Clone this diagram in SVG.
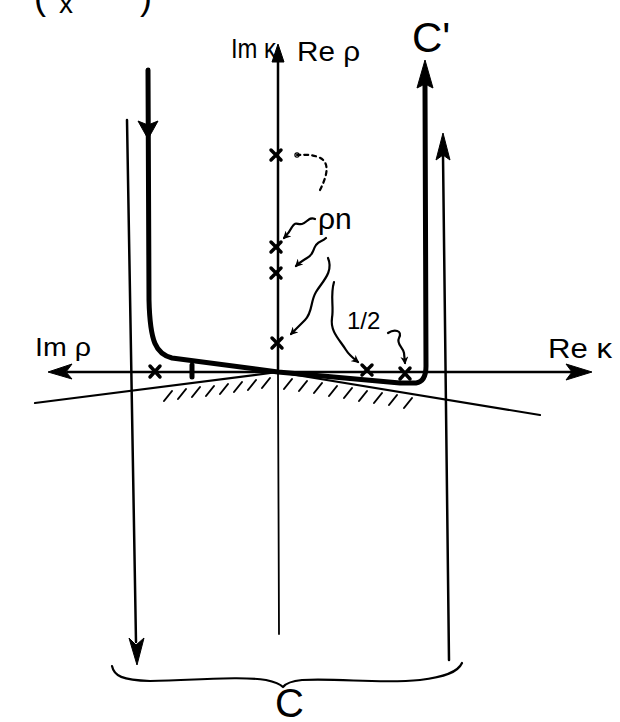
<svg xmlns="http://www.w3.org/2000/svg" width="620" height="722" viewBox="0 0 620 722">
<defs>
<style>
.ink{fill:none;stroke:#000;stroke-linecap:round;stroke-linejoin:round}
.thin{stroke-width:2.5}
.thick{stroke-width:5}
.wavy{stroke-width:2.2}
.hatch{stroke-width:2}
.cross{stroke-width:3.5}
.lbl{font-family:"Liberation Sans","DejaVu Sans",sans-serif;fill:#000}
.head{fill:#000;stroke:#000;stroke-width:1;stroke-linejoin:round}
</style>
<marker id="small" viewBox="0 0 10 10" refX="8" refY="5" markerWidth="8" markerHeight="8" markerUnits="userSpaceOnUse" orient="auto">
<path d="M0,0 L10,5 L0,10 L3,5 Z" fill="#000"/>
</marker>
<marker id="dot" viewBox="0 0 10 10" refX="5" refY="5" markerWidth="6" markerHeight="6" markerUnits="userSpaceOnUse" orient="auto">
<circle cx="5" cy="5" r="3.5" fill="none" stroke="#000" stroke-width="2"/>
</marker>
</defs>
<rect width="620" height="722" fill="#fff"/>

<g id="top-fragment">
<text class="lbl" x="34" y="9" font-size="36">(</text>
<text class="lbl" x="59" y="13" font-size="28">x</text>
<text class="lbl" x="140" y="9" font-size="36">)</text>
</g>

<g id="axes">
<path class="ink thin" d="M278,62 L278,372"/>
<path class="ink" stroke-width="1.8" d="M278,372 L279,634"/>
<polygon class="head" points="278,44 272,62 284,62"/>
<path class="ink thin" d="M68,372 L572,372"/>
<polygon class="head" points="48,372 72,364 66,372 72,379"/>
<polygon class="head" points="592,372 566,364 572,372 566,380"/>
<text class="lbl" x="231" y="58" font-size="27" textLength="45" lengthAdjust="spacingAndGlyphs">Im κ</text>
<text class="lbl" x="297" y="61" font-size="28" textLength="63" lengthAdjust="spacingAndGlyphs">Re ρ</text>
<text class="lbl" x="35" y="356" font-size="25" textLength="56" lengthAdjust="spacingAndGlyphs">Im ρ</text>
<text class="lbl" x="548" y="358" font-size="27" textLength="64" lengthAdjust="spacingAndGlyphs">Re κ</text>
</g>

<g id="cut">
<path class="ink" stroke-width="2.2" d="M35,403 L278,372 L540,415"/>
<g class="ink hatch">
<path d="M164,401 L172,391"/><path d="M178,399 L186,389"/><path d="M192,397 L200,387"/>
<path d="M206,396 L214,386"/><path d="M220,394 L228,384"/><path d="M234,392 L242,382"/>
<path d="M248,390 L256,380"/><path d="M262,388 L270,378"/><path d="M284,389 L292,379"/>
<path d="M299,391 L307,381"/><path d="M314,393 L322,383"/><path d="M329,396 L337,386"/>
<path d="M344,398 L352,388"/><path d="M359,401 L367,391"/><path d="M374,403 L382,393"/>
<path d="M389,405 L397,395"/><path d="M404,408 L412,398"/>
</g>
</g>

<g id="contour-C">
<path class="ink thin" d="M127,120 L136,642"/>
<polygon class="head" points="137,665 129,638 136,645 144,638"/>
<path class="ink thin" d="M449,660 L443,155"/>
<polygon class="head" points="443,133 436,160 443,155 450,160"/>
</g>

<g id="contour-Cprime">
<path class="ink thick" d="M148,70 L149,300 C150,342 156,354 172,358 L278,372 L400,383 L416,383 C423,382 426,376 426,366 L425,86"/>
<polygon class="head" points="148,139 138,121 148,125 158,121"/>
<polygon class="head" points="425,60 417,88 425,84 433,88"/>
<text class="lbl" x="412" y="52" font-size="42">C'</text>
</g>

<g id="poles">
<g class="ink cross">
<path d="M271,150 L281,160 M281,150 L271,160"/>
<path d="M271,242 L281,252 M281,242 L271,252"/>
<path d="M271,268 L281,278 M281,268 L271,278"/>
<path d="M272,338 L282,348 M282,338 L272,348"/>
<path d="M150,366 L160,377 M160,366 L150,377"/>
<path d="M362,365 L372,375 M372,365 L362,375"/>
<path d="M400,368 L410,379 M410,368 L400,379"/>
</g>
<path class="ink" stroke-width="5" d="M192,365 L192,377"/>
</g>

<g id="labels-rho">
<text class="lbl" x="318" y="229" font-size="30">ρn</text>
<path class="ink wavy" stroke-dasharray="4,4" d="M320,190 C326,178 332,162 318,157 C310,154 304,155 297,155" marker-end="url(#dot)"/>
<path class="ink wavy" d="M315,219 C309,216 307,223 302,224 C297,225 296,221 292,227 C290,231 288,234 284,238" marker-end="url(#small)"/>
<path class="ink wavy" d="M326,238 C322,242 320,240 316,245 C312,251 314,254 307,258 C302,261 299,263 296,266" marker-end="url(#small)"/>
<path class="ink wavy" d="M328,258 C334,272 322,282 316,292 C310,302 313,312 305,320 C299,326 295,330 291,334" marker-end="url(#small)"/>
<path class="ink wavy" d="M334,282 C330,296 334,306 332,318 C330,332 340,340 346,350 C349,355 353,358 358,362" marker-end="url(#small)"/>
<text class="lbl" x="347" y="329" font-size="24">1/2</text>
<path class="ink wavy" d="M388,333 C394,329 403,330 399,338 C396,344 403,347 404,353 L405,363" marker-end="url(#small)"/>
</g>

<g id="brace">
<path class="ink" stroke-width="2.2" d="M112,666 C114,676 122,680 150,681 C200,680 240,676 266,680 C275,682 280,684 283,687 C286,683 292,681 302,680 C340,678 380,684 420,680 C445,677 458,672 462,663"/>
<text class="lbl" x="275" y="717" font-size="40">C</text>
</g>
</svg>
